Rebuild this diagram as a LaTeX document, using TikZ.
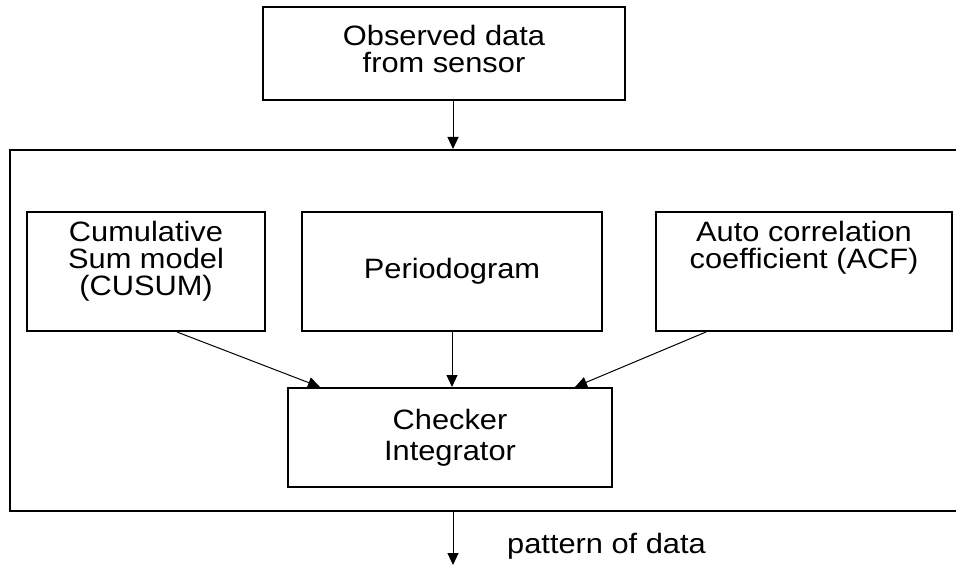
\documentclass[tikz,border=0pt]{standalone}
\usepackage{fontspec}
\setmainfont{Liberation Sans}[FakeStretch=1.1]
\usetikzlibrary{arrows.meta, positioning}

\begin{document}
\begin{tikzpicture}[x=1pt, y=-1pt,
        blk/.style={draw, line width=2pt, align=center, inner sep=0pt, font={\fontsize{28}{27}\selectfont}},
        arr/.style={-{Triangle[length=12pt, width=11pt]}, line width=1pt}]
        \useasboundingbox (0,0) rectangle (956,569);

        \node[blk, minimum width=956pt, minimum height=361pt] (frame) at (488, 330.5) {};
        \node[blk, minimum width=362pt, minimum height=93pt, text depth=10pt] (obs) at (444, 53.5) {Observed data\\from sensor};
        \node[blk, minimum width=238pt, minimum height=119pt, text depth=26pt] (cusum) at (146, 271.5) {Cumulative\\Sum model\\(CUSUM)};
        \node[blk, minimum width=300pt, minimum height=119pt] (perio) at (452, 271.5) {Periodogram};
        \node[blk, minimum width=296pt, minimum height=119pt, text depth=54pt] (acf) at (804, 271.5) {Auto correlation\\coefficient (ACF)};
        \node[blk, minimum width=324pt, minimum height=99pt, font={\fontsize{28}{31}\selectfont}] (chk) at (450, 437.5) {Checker\\Integrator};
        \coordinate (out) at (453, 565);
        \node[anchor=base west, inner sep=0pt, font={\fontsize{28}{27}\selectfont}] (pat) at (507, 553) {pattern of data};

        \draw[arr] (obs.south -| out) to (frame.north -| out);
        \draw[arr] ([xshift=31pt]cusum.south) to ([xshift=-130pt]chk.north);
        \draw[arr] (perio.south) to (perio.south |- chk.north);
        \draw[arr] ([xshift=-98pt]acf.south) to ([xshift=125pt]chk.north);
        \draw[arr] (frame.south -| out) to (out);
\end{tikzpicture}
\end{document}
